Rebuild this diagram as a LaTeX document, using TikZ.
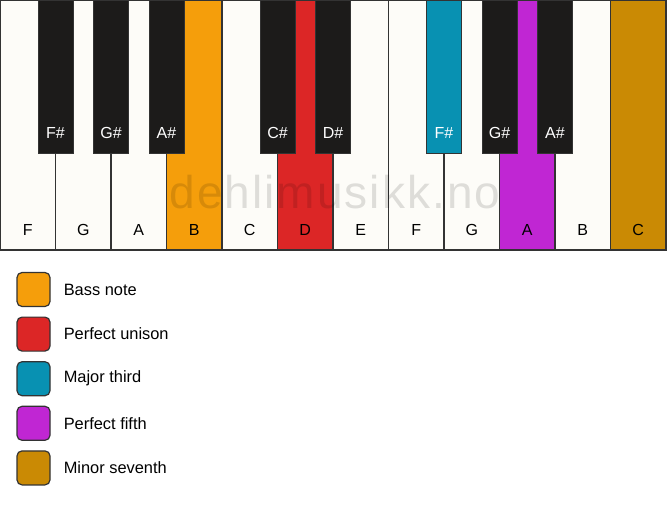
\documentclass[tikz,border=0pt]{standalone}
\usepackage{fontspec}
\setmainfont{Liberation Sans}
\usetikzlibrary{positioning}
\definecolor{keywhite}{HTML}{FDFCF8}
\definecolor{keyblack}{HTML}{1C1B1A}
\definecolor{keyline}{HTML}{333333}
\definecolor{bassnote}{HTML}{F59E0B}
\definecolor{unison}{HTML}{DC2626}
\definecolor{third}{HTML}{0891B2}
\definecolor{fifth}{HTML}{C026D3}
\definecolor{seventh}{HTML}{CA8A04}
\tikzset{>=latex}
\tikzset{
  whitekey/.style={draw=keyline, line width=1.3pt},
  blackkey/.style={draw=keyline, line width=1pt},
  keylabel/.style={font=\fontsize{16}{19}\selectfont, inner sep=0pt},
  legendbox/.style={draw=keyline, line width=1.2pt, rounded corners=5pt,
    minimum width=33pt, minimum height=34pt, inner sep=0pt},
  legendtext/.style={font=\fontsize{16.4}{19}\selectfont, anchor=west, inner sep=0pt}
}
\begin{document}
\begin{tikzpicture}[x=1pt,y=-1pt]
\useasboundingbox (0,0) rectangle (667,506);
% white keys
\foreach \n/\c [count=\i from 0] in
  {F/keywhite,G/keywhite,A/keywhite,B/bassnote,C/keywhite,D/unison,
   E/keywhite,F/keywhite,G/keywhite,A/fifth,B/keywhite,C/seventh}
{
  \draw[whitekey, fill=\c] (\i*55.5,0) rectangle ++(55.5,250);
  \node[keylabel] (w\i) at (\i*55.5+27.75,230) {\n};
}
% watermark
\node[font=\fontsize{46}{52}\selectfont\addfontfeature{LetterSpace=4.5},
  text=black, text opacity=0.12, anchor=base, inner sep=0pt]
  (mark) at (335,208) {dehlimusikk.no};
% black keys
\foreach \n/\b/\c [count=\i] in
  {F\#/1/keyblack,G\#/2/keyblack,A\#/3/keyblack,C\#/5/keyblack,
   D\#/6/keyblack,F\#/8/third,G\#/9/keyblack,A\#/10/keyblack}
{
  \draw[blackkey, fill=\c] (\b*55.5-17.5,0) rectangle ++(35,153);
  \node[keylabel, text=white] (k\i) at (\b*55.5,133) {\n};
}
% legend
\foreach \lbl/\c [count=\i from 0] in
  {Bass note/bassnote,Perfect unison/unison,Major third/third,
   Perfect fifth/fifth,Minor seventh/seventh}
{
  \node[legendbox, fill=\c] (leg\i) at (33.5,289.5+\i*44.6) {};
  \node[legendtext, right=13pt of leg\i] (txt\i) {\lbl};
}
\end{tikzpicture}
\end{document}
